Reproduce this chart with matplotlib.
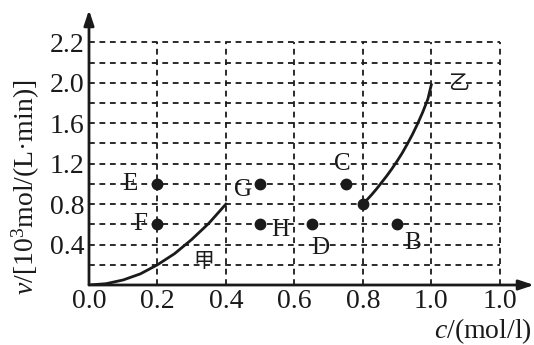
import numpy as np
import matplotlib.pyplot as plt
from matplotlib import font_manager as fm

# make sure the serif font is really there
fm.findfont(fm.FontProperties(family='Liberation Serif'), fallback_to_default=False)

plt.rcParams['font.family'] = ['Liberation Serif', 'Noto Sans CJK SC']
plt.rcParams['mathtext.fontset'] = 'custom'
plt.rcParams['mathtext.rm'] = 'Liberation Serif'
plt.rcParams['mathtext.it'] = 'Liberation Serif:italic'

# points on the chart
point_names = ['E', 'F', 'G', 'H', 'D', 'C', 'B', '']
point_c = [0.2, 0.2, 0.5, 0.5, 0.65, 0.75, 0.9, 0.8]
point_v = [1.0, 0.6, 1.0, 0.6, 0.6, 1.0, 0.6, 0.8]
label_c = [0.12, 0.15, 0.45, 0.56, 0.675, 0.74, 0.945, None]
label_v = [1.0, 0.6, 0.94, 0.54, 0.37, 1.2, 0.42, None]

# curve 甲
jia_c = [0.0, 0.05, 0.1, 0.15, 0.2, 0.25, 0.3, 0.35, 0.4]
jia_v = [0.0, 0.013, 0.05, 0.11, 0.2, 0.31, 0.45, 0.61, 0.8]
# curve 乙
yi_c = [0.8, 0.81, 0.825, 0.84, 0.855, 0.87, 0.885, 0.9, 0.915, 0.93, 0.945,
        0.96, 0.975, 0.99, 1.0]
yi_v = [0.8, 0.835, 0.89, 0.95, 1.015, 1.08, 1.15, 1.225, 1.305, 1.395, 1.49,
        1.595, 1.71, 1.84, 1.98]

xtick_pos = [0.0, 0.2, 0.4, 0.6, 0.8, 1.0, 1.2]
xtick_lab = ['0.0', '0.2', '0.4', '0.6', '0.8', '1.0', '1.0']
ytick_pos = [0.4, 0.8, 1.2, 1.6, 2.0, 2.4]
ytick_lab = ['0.4', '0.8', '1.2', '1.6', '2.0', '2.2']
hgrid = [0.2, 0.4, 0.6, 0.8, 1.0, 1.2, 1.4, 1.6, 1.8, 2.0, 2.2, 2.4]
vgrid = [0.2, 0.4, 0.6, 0.8, 1.0, 1.2]

ink = '#1a1a1a'

fig = plt.figure(figsize=(5.34, 3.45), dpi=100)
ax = fig.add_axes([89 / 534, 60 / 345, 445 / 534, 275 / 345])
ax.set_xlim(0, 1.3)
ax.set_ylim(0, 2.72)
for s in ax.spines.values():
    s.set_visible(False)

dash = (0, (3.2, 2.6))
ax.hlines(hgrid, 0, 1.2, colors=ink, linestyles=dash, lw=1.3)
ax.vlines(vgrid, 0, 2.4, colors=ink, linestyles=dash, lw=1.3)

# axes with arrows
for tip in [(1.3, 0), (0, 2.72)]:
    ax.annotate('', xy=tip, xytext=(0, 0), annotation_clip=False,
                arrowprops=dict(arrowstyle='-|>,head_length=0.9,head_width=0.3',
                                color=ink, lw=2.0, shrinkA=0, shrinkB=0))

ax.set_xticks(xtick_pos)
ax.set_xticklabels(xtick_lab)
ax.set_yticks(ytick_pos)
ax.set_yticklabels(ytick_lab)
ax.tick_params(length=0, labelsize=20, colors=ink, pad=3)

ax.plot(jia_c, jia_v, color=ink, lw=2.0)
ax.plot(yi_c, yi_v, color=ink, lw=2.0)
ax.plot(point_c, point_v, 'o', color=ink, ms=7.5, ls='none')

for n, x, y in zip(point_names, label_c, label_v):
    if n:
        ax.text(x, y, n, fontsize=18, ha='center', va='center', color=ink)

ax.text(0.335, 0.24, '甲', fontsize=15, ha='center', va='center',
        family=['Noto Sans CJK SC'], color=ink)
ax.text(1.08, 2.0, '乙', fontsize=15, ha='center', va='center',
        family=['Noto Sans CJK SC'], color=ink)

fig.text(26 / 534, 158 / 345, r'$v$/[10$^3$mol/(L·min)]', rotation=90,
         fontsize=20, ha='center', va='center', color=ink)
fig.text(532 / 534, 14 / 345, r'$c$/(mol/l)', fontsize=20, ha='right',
         va='center', color=ink)

fig.savefig('out.png', dpi=100)
